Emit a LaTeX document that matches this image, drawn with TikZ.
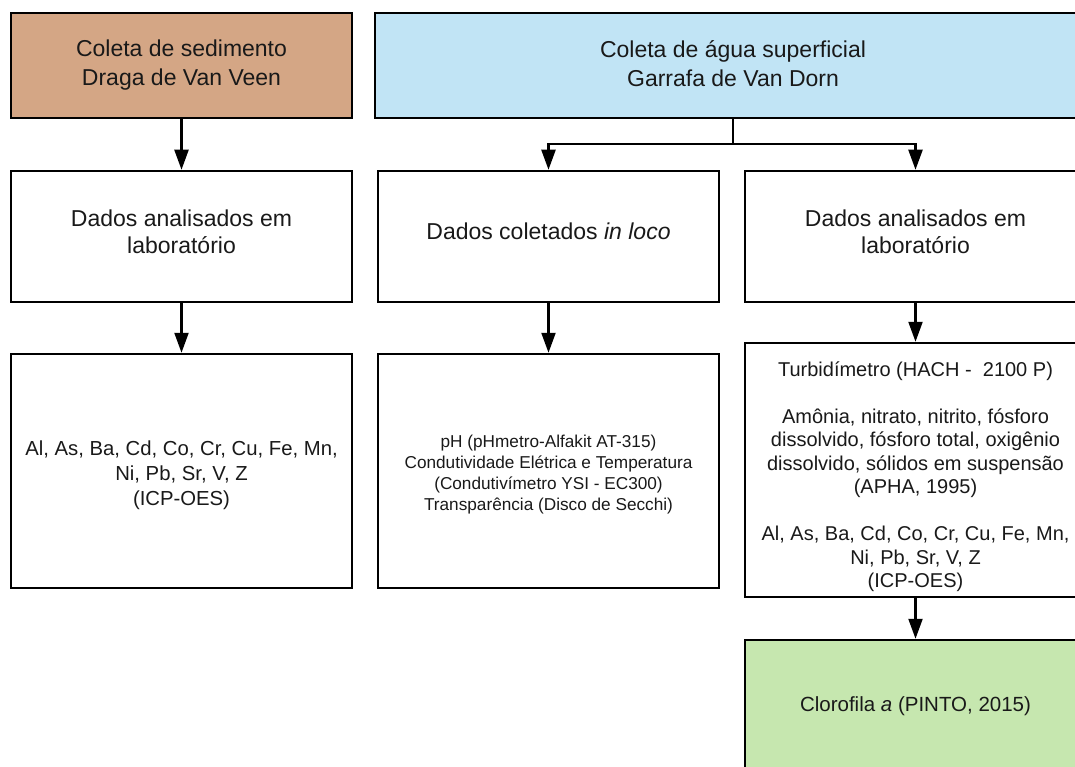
\documentclass[tikz,border=0pt]{standalone}
\usepackage{fontspec}
\setmainfont{Liberation Sans}
\usetikzlibrary{arrows.meta}
\definecolor{sedfill}{RGB}{212,166,133}
\definecolor{aguafill}{RGB}{193,228,245}
\definecolor{clorofill}{RGB}{198,231,175}
\definecolor{txt}{RGB}{25,25,25}
\begin{document}
\begin{tikzpicture}[x=1pt,y=-1pt,
  box/.style={draw=black,line width=2.5pt,rectangle,align=center,inner sep=2pt,text=txt,minimum width=341pt},
  big/.style={font=\fontsize{23}{29}\selectfont},
  mid/.style={font=\fontsize{20.3}{25}\selectfont},
  small/.style={font=\fontsize{17.2}{21}\selectfont},
  conn/.style={line width=2.2pt,-{Triangle[width=14pt,length=20pt]}},
  plain/.style={line width=2.2pt}]
\useasboundingbox (0,0) rectangle (1075,767);
\clip (0,0) rectangle (1075,767);
% top row
\node[box,big,fill=sedfill,minimum height=105pt] (sed) at (181.5,65.5) {Coleta de sedimento\\Draga de Van Veen};
\node[box,big,fill=aguafill,minimum height=105pt,minimum width=716pt] (agua) at (733,65.5) {Coleta de água superficial\\Garrafa de Van Dorn\rule[-4pt]{0pt}{4pt}};
% second row
\node[box,font=\fontsize{23}{27}\selectfont,minimum height=131pt] (lab1) at (181.5,236.5) {Dados analisados em\\laboratório\rule[-9pt]{0pt}{9pt}};
\node[box,big,minimum height=131pt] (loco) at (548.5,236.5) {Dados coletados \textit{in loco}\rule[-10pt]{0pt}{10pt}};
\node[box,font=\fontsize{23}{27}\selectfont,minimum height=131pt] (lab2) at (915.5,236.5) {Dados analisados em\\laboratório\rule[-9pt]{0pt}{9pt}};
% third row
\node[box,mid,minimum height=234pt] (met1) at (181.5,471) {\rule{0pt}{23pt}Al, As, Ba, Cd, Co, Cr, Cu, Fe, Mn,\\Ni, Pb, Sr, V, Z\\(ICP-OES)};
\node[box,small,minimum height=234pt] (insitu) at (548.5,471) {\rule{0pt}{18.6pt}pH (pHmetro-Alfakit AT-315)\\Condutividade Elétrica e Temperatura\\(Condutivímetro YSI - EC300)\\Transparência (Disco de Secchi)};
\node[box,font=\fontsize{20}{23.5}\selectfont,minimum height=254pt] (lab2res) at (915.5,470) {\rule{0pt}{28pt}Turbidímetro (HACH -\ \ 2100 P)\\[23.5pt]Amônia, nitrato, nitrito, fósforo\\dissolvido, fósforo total, oxigênio\\dissolvido, sólidos em suspensão\\(APHA, 1995)\\[23.5pt]Al, As, Ba, Cd, Co, Cr, Cu, Fe, Mn,\\Ni, Pb, Sr, V, Z\\(ICP-OES)};
% fourth row
\node[box,font=\fontsize{20.5}{25}\selectfont,fill=clorofill,minimum height=132pt] (cloro) at (915.5,706) {Clorofila \textit{a} (PINTO, 2015)};
% connectors
\draw[conn] (sed.south) -- (lab1.north);
\draw[conn] (lab1.south) -- (met1.north);
\coordinate (split) at (733,144);
\draw[plain] (agua.south) -- (split);
\draw[conn] (split) -| (loco.north);
\draw[conn] (split) -| (lab2.north);
\draw[conn] (loco.south) -- (insitu.north);
\draw[conn] (lab2.south) -- (lab2res.north);
\draw[conn] (lab2res.south) -- (cloro.north);
\end{tikzpicture}
\end{document}
